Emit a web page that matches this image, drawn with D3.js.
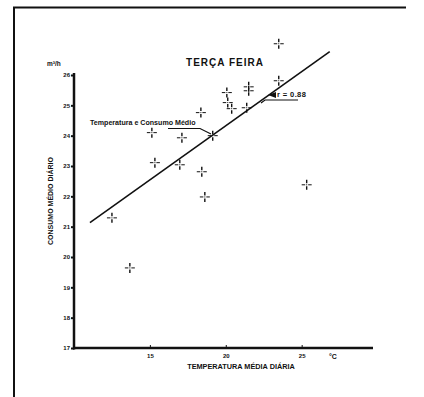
<!DOCTYPE html>
<html><head><meta charset="utf-8">
<script src="https://cdn.jsdelivr.net/npm/d3@7"></script>
<style>body{margin:0;background:#fff}svg{display:block}text{font-family:"Liberation Sans",Arial,sans-serif;font-weight:bold;fill:#111}</style>
</head><body>
<script>
// Data
const tempC = [23.49, 23.49, 21.51, 21.51, 20.07, 20.13, 20.39, 21.38, 18.36, 19.14, 15.13, 17.11, 15.33, 16.97, 18.42, 18.62, 12.50, 13.68, 25.33];
const consumo = [27.03, 25.81, 25.61, 25.48, 25.42, 25.09, 24.89, 24.92, 24.76, 24.00, 24.10, 23.93, 23.11, 23.04, 22.81, 21.98, 21.29, 19.64, 22.38];
const regX = [11.05, 26.85];
const regY = [21.13, 26.77];
const yTicks = [17, 18, 19, 20, 21, 22, 23, 24, 25, 26];
const xTicks = [15, 20, 25];
const title = "TERÇA FEIRA";
const xTitle = "TEMPERATURA MÉDIA DIÁRIA";
const yTitle = "CONSUMO MÉDIO DIÁRIO";
const yUnit = "m³/h";
const xUnit = "°C";
const annot1 = "Temperatura e Consumo Médio";
const annot2 = "r = 0.88";

const W = 424, H = 397;
const svg = d3.select("body").append("svg").attr("width", W).attr("height", H);

// frame
svg.append("path").attr("d", "M14,397 L14,7.5 L406,7.5").attr("fill", "none").attr("stroke", "#111").attr("stroke-width", 2);

const x = d3.scaleLinear().domain([10, 29.7]).range([74, 373]);
const y = d3.scaleLinear().domain([17, 26]).range([348, 75]);

// axes lines
svg.append("line").attr("x1", x(10)).attr("x2", x(10)).attr("y1", 73).attr("y2", 349.5).attr("stroke", "#111").attr("stroke-width", 2.5);
svg.append("line").attr("x1", x(10) - 1).attr("x2", x(29.7)).attr("y1", y(17)).attr("y2", y(17)).attr("stroke", "#111").attr("stroke-width", 2.5);

const yAxis = svg.append("g").attr("transform", `translate(${x(10)},0)`)
  .call(d3.axisLeft(y).tickValues(yTicks).tickSize(3).tickPadding(1).tickFormat(d3.format("d")));
yAxis.select(".domain").remove();
yAxis.selectAll("line").attr("stroke", "#111").attr("stroke-width", 2);
yAxis.selectAll("text").style("font-size", "6px").style("font-family", "Liberation Sans, Arial").style("font-weight", "bold").attr("fill", "#111");

const xAxis = svg.append("g").attr("transform", `translate(0,${y(17)})`)
  .call(d3.axisBottom(x).tickValues(xTicks).tickSizeInner(-3).tickSizeOuter(0).tickPadding(6).tickFormat(d3.format("d")));
xAxis.select(".domain").remove();
xAxis.selectAll("line").attr("stroke", "#111").attr("stroke-width", 1);
xAxis.selectAll("text").style("font-size", "6px").style("font-family", "Liberation Sans, Arial").style("font-weight", "bold").attr("fill", "#111");

svg.append("text").attr("x", 333).attr("y", 359).attr("text-anchor", "middle").style("font-size", "7px").text(xUnit);
svg.append("text").attr("x", 241).attr("y", 369).attr("text-anchor", "middle").style("font-size", "7.3px").text(xTitle);
svg.append("text").attr("transform", "translate(53,201) rotate(-90)").attr("text-anchor", "middle").style("font-size", "7px").text(yTitle);
svg.append("text").attr("x", 47).attr("y", 66).style("font-size", "6.5px").text(yUnit);
svg.append("text").attr("x", 225).attr("y", 66).attr("text-anchor", "middle").style("font-size", "10px").style("letter-spacing", "1px").text(title);

// regression line
svg.append("line").attr("x1", x(regX[0])).attr("y1", y(regY[0])).attr("x2", x(regX[1])).attr("y2", y(regY[1]))
  .attr("stroke", "#111").attr("stroke-width", 1.6);

// annotations
svg.append("text").attr("x", 90).attr("y", 125).style("font-size", "7.1px").text(annot1);
svg.append("path").attr("d", "M168,128.5 L200,128.5 L211,134").attr("fill", "none").attr("stroke", "#111").attr("stroke-width", 1.2);
svg.append("path").attr("d", "M268,95 L276,92 L276,98 Z").attr("fill", "#111");
svg.append("text").attr("x", 277).attr("y", 97).style("font-size", "7.5px").style("letter-spacing", "0.4px").text(annot2);
svg.append("path").attr("d", "M298,100 L265,100 L261,103").attr("fill", "none").attr("stroke", "#111").attr("stroke-width", 1.2);

// crosses
const g = svg.append("g");
tempC.forEach((t, i) => {
  const cx = x(t), cy = y(consumo[i]);
  const p = d3.path();
  p.moveTo(cx - 5, cy); p.lineTo(cx - 1.5, cy);
  p.moveTo(cx + 1.5, cy); p.lineTo(cx + 5, cy);
  g.append("path").attr("d", p.toString()).attr("stroke", "#111").attr("stroke-width", 1).attr("fill", "none");
  const q = d3.path();
  q.moveTo(cx, cy - 5); q.lineTo(cx, cy - 1.5);
  q.moveTo(cx, cy + 1.5); q.lineTo(cx, cy + 5);
  g.append("path").attr("d", q.toString()).attr("stroke", "#111").attr("stroke-width", 1.4).attr("fill", "none");
  g.append("rect").attr("x", cx - 0.5).attr("y", cy - 0.5).attr("width", 1).attr("height", 1).attr("fill", "#111");
});
</script>
</body></html>
